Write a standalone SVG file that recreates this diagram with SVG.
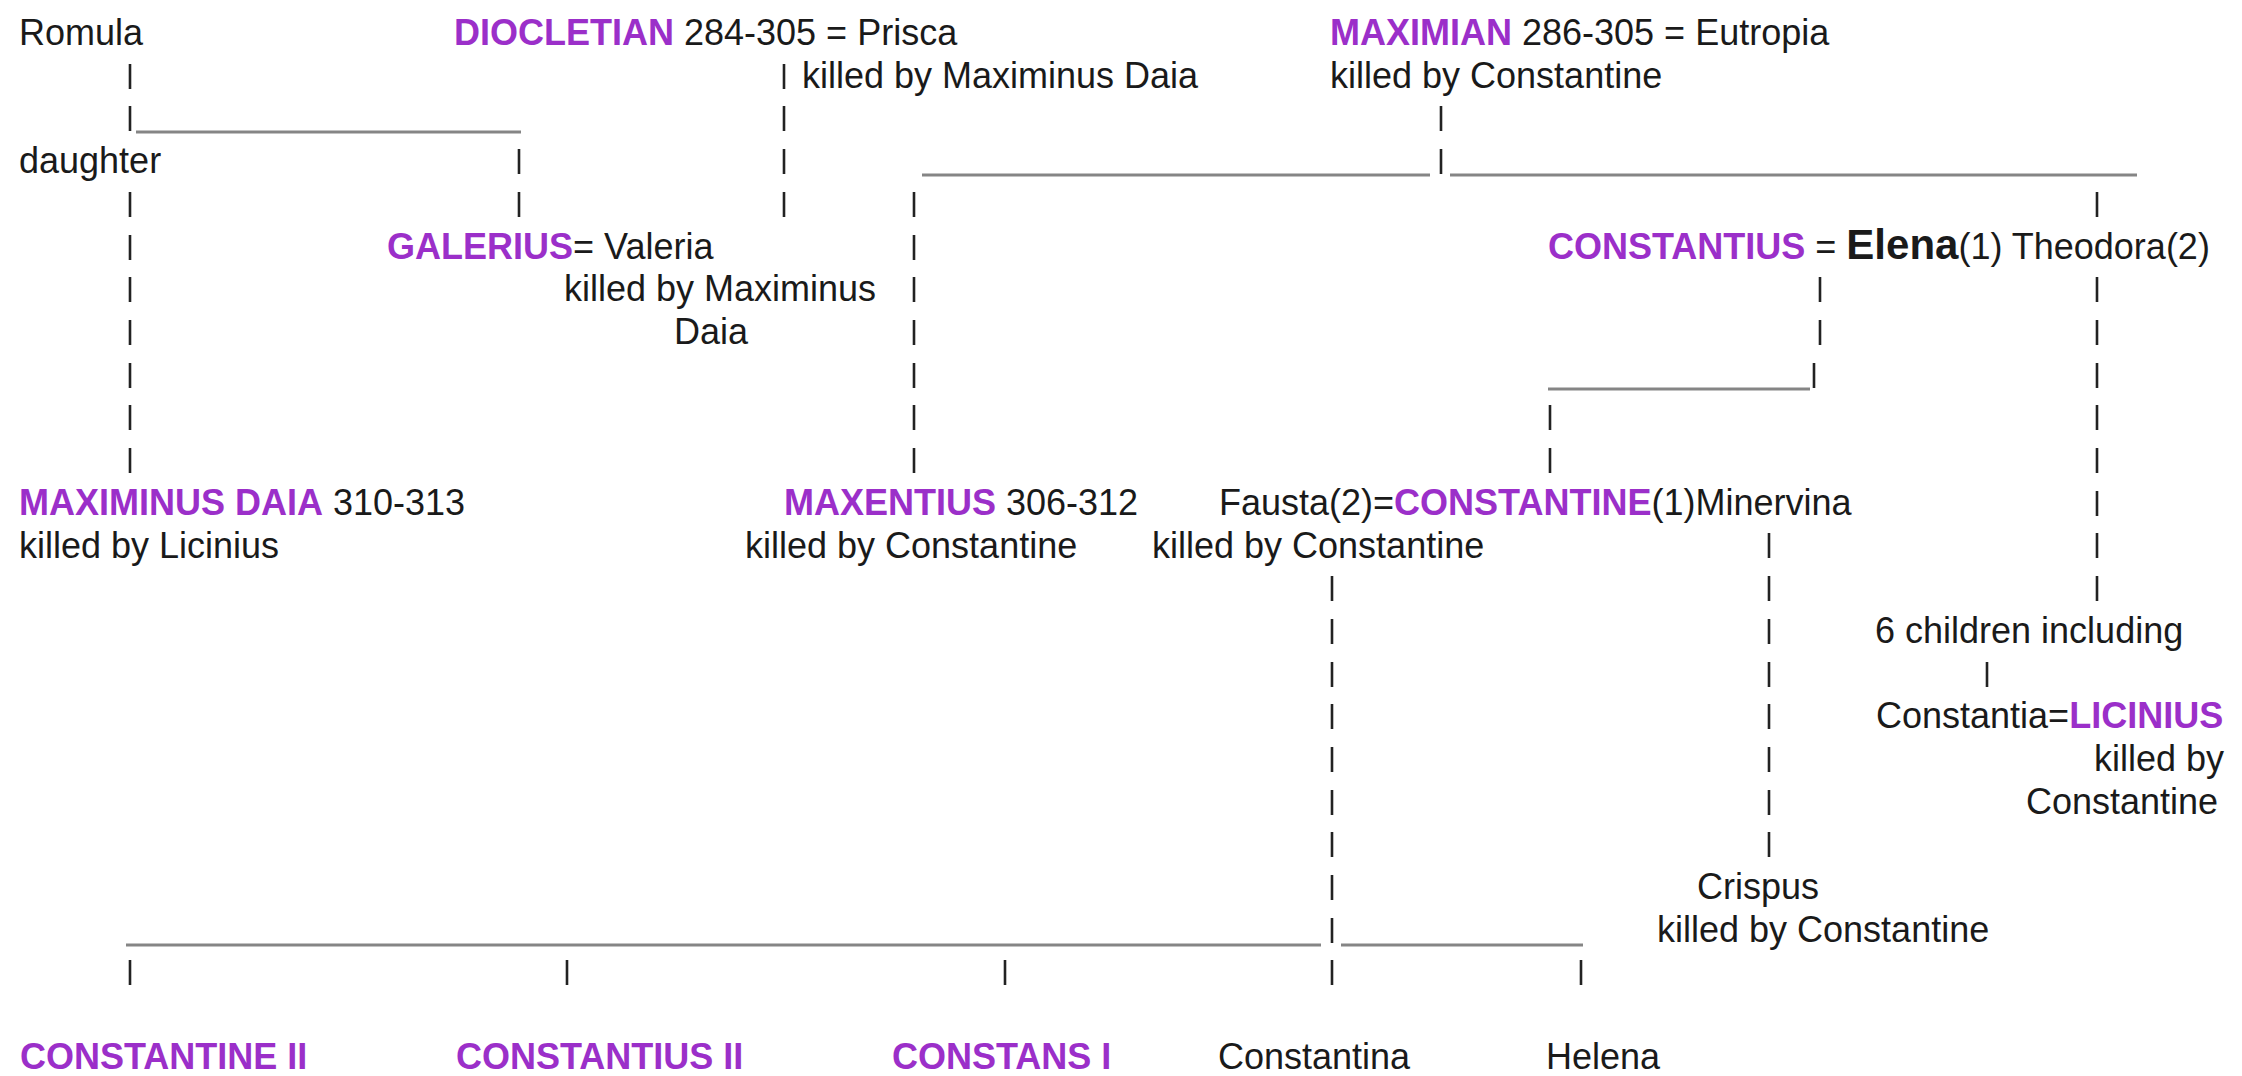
<svg xmlns="http://www.w3.org/2000/svg" width="2242" height="1076" viewBox="0 0 2242 1076">
<style>
text{font-family:"Liberation Sans",Arial,Helvetica,sans-serif;font-size:36px;fill:#1a1a1a}
.p{fill:#9b2fc9;font-weight:bold}
.el{font-weight:bold;font-size:42px}
.tick{stroke:#222;stroke-width:2.6;fill:none}
.hl{stroke:#858585;stroke-width:3;fill:none}
</style>
<rect width="2242" height="1076" fill="#fff"/>
<g id="connectors">
<path class="tick" d="M130 64v25M130 106v25M130 192v25M130 235v25M130 277v25M130 320v25M130 363v25M130 405v25M130 448v25"/>
<path class="tick" d="M519 149v25M519 192v25"/>
<path class="tick" d="M784 64v25M784 106v25M784 149v25M784 192v25"/>
<path class="tick" d="M914 192v25M914 235v25M914 277v25M914 320v25M914 363v25M914 405v25M914 448v25"/>
<path class="tick" d="M1441 106v25M1441 149v25"/>
<path class="tick" d="M2097 192v25M2097 277v25M2097 320v25M2097 363v25M2097 405v25M2097 448v25M2097 491v25M2097 533v25M2097 576v25"/>
<path class="tick" d="M1820 277v25M1820 320v25M1814 363v25"/>
<path class="tick" d="M1550 405v25M1550 448v25"/>
<path class="tick" d="M1769 533v25M1769 576v25M1769 619v25M1769 662v25M1769 704v25M1769 747v25M1769 790v25M1769 832v25"/>
<path class="tick" d="M1332 576v25M1332 619v25M1332 662v25M1332 704v25M1332 747v25M1332 790v25M1332 832v25M1332 875v25M1332 918v25M1332 960v25"/>
<path class="tick" d="M1987 662v25"/>
<path class="tick" d="M130 960v25M567 960v25M1005 960v25M1581 960v25"/>
<path class="hl" d="M136 132H521M922 175H1430M1450 175H2137M1548 389H1810M126 945H1321M1341 945H1583"/>
</g>
<g id="n-romula"><text x="19" y="45">Romula</text></g>
<g id="n-daughter"><text x="19" y="173">daughter</text></g>
<g id="n-diocletian">
<text x="454" y="45"><tspan class="p">DIOCLETIAN</tspan> 284-305 = Prisca</text>
<text x="802" y="88">killed by Maximinus Daia</text>
</g>
<g id="n-maximian">
<text x="1330" y="45"><tspan class="p">MAXIMIAN</tspan> 286-305 = Eutropia</text>
<text x="1330" y="88">killed by Constantine</text>
</g>
<g id="n-galerius">
<text x="387" y="258.5"><tspan class="p">GALERIUS</tspan>= Valeria</text>
<text x="564" y="301">killed by Maximinus</text>
<text x="674" y="344">Daia</text>
</g>
<g id="n-constantius">
<text x="1548" y="258.5"><tspan class="p">CONSTANTIUS</tspan> = <tspan class="el">Elena</tspan>(1) Theodora(2)</text>
</g>
<g id="n-maximinus-daia">
<text x="19" y="515"><tspan class="p">MAXIMINUS DAIA</tspan> 310-313</text>
<text x="19" y="557.5">killed by Licinius</text>
</g>
<g id="n-maxentius">
<text x="784" y="515"><tspan class="p">MAXENTIUS</tspan> 306-312</text>
<text x="745" y="557.5">killed by Constantine</text>
</g>
<g id="n-constantine">
<text x="1219" y="515">Fausta(2)=<tspan class="p">CONSTANTINE</tspan>(1)Minervina</text>
<text x="1152" y="557.5">killed by Constantine</text>
</g>
<g id="n-six-children"><text x="1875" y="643">6 children including</text></g>
<g id="n-licinius">
<text x="1876" y="728">Constantia=<tspan class="p">LICINIUS</tspan></text>
<text x="2094" y="771">killed by</text>
<text x="2026" y="813.5">Constantine</text>
</g>
<g id="n-crispus">
<text x="1697" y="899">Crispus</text>
<text x="1657" y="941.5">killed by Constantine</text>
</g>
<g id="n-constantine-ii"><text class="p" x="20" y="1069">CONSTANTINE II</text></g>
<g id="n-constantius-ii"><text class="p" x="456" y="1069">CONSTANTIUS II</text></g>
<g id="n-constans-i"><text class="p" x="892" y="1069">CONSTANS I</text></g>
<g id="n-constantina"><text x="1218" y="1069">Constantina</text></g>
<g id="n-helena"><text x="1546" y="1069">Helena</text></g>
</svg>
